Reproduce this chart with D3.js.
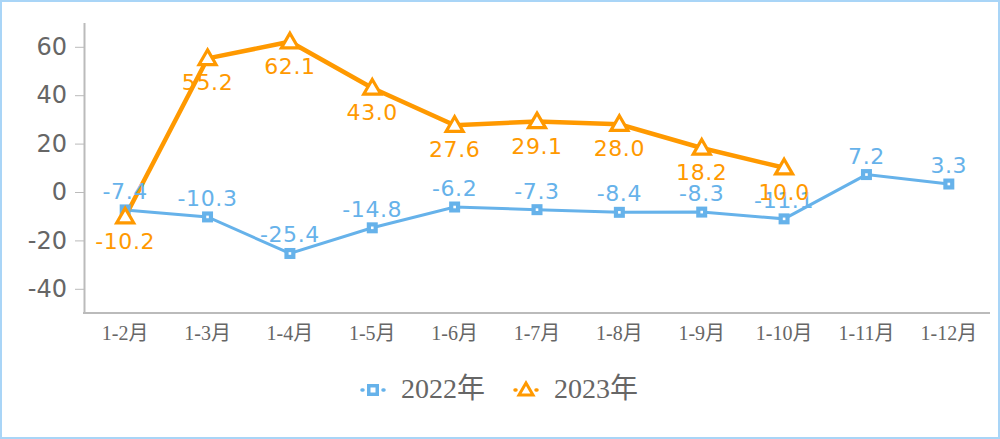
<!DOCTYPE html>
<html><head><meta charset="utf-8">
<script src="https://cdn.jsdelivr.net/npm/d3@7/dist/d3.min.js"></script>
<style>html,body{margin:0;padding:0;background:#fff;}svg{display:block;}</style>
</head><body>
<svg id="c" width="1000" height="439"></svg>
<script>
const categories = ["1-2月","1-3月","1-4月","1-5月","1-6月","1-7月","1-8月","1-9月","1-10月","1-11月","1-12月"];
const series2022 = [-7.4,-10.3,-25.4,-14.8,-6.2,-7.3,-8.4,-8.3,-11.1,7.2,3.3];
const series2023 = [-10.2,55.2,62.1,43.0,27.6,29.1,28.0,18.2,10.0];
const yTicks = [-40,-20,0,20,40,60];
const seriesNames = ["2022年","2023年"];

const blue = "#66b2ea", orange = "#ff9900", gray = "#666";
const serif = "'Liberation Serif', 'DejaVu Serif', 'Noto Sans CJK SC', serif";
const sans = "'DejaVu Sans', Verdana, sans-serif";
const svg = d3.select("#c");
svg.append("rect").attr("x",1).attr("y",1).attr("width",998).attr("height",437)
  .attr("fill","#fff").attr("stroke","#a9d5f7").attr("stroke-width",2);

const x = d3.scaleBand().domain(categories).range([84,990]);
const y = d3.scaleLinear().domain([-50,70]).range([313,22.6]);
const cx = d => x(d) + x.bandwidth()/2;

// axes
const yAxis = svg.append("g").attr("transform","translate(84,0)")
  .call(d3.axisLeft(y).tickValues(yTicks).tickFormat(d=>String(d)).tickSize(9).tickSizeOuter(0).tickPadding(8));
yAxis.select(".domain").attr("stroke","#bbb").attr("stroke-width",2);
yAxis.selectAll(".tick line").attr("stroke","#bbb");
yAxis.selectAll("text").attr("fill",gray).style("font-family",sans).style("font-size","24px");

const xAxis = svg.append("g").attr("transform","translate(0,313)")
  .call(d3.axisBottom(x).tickSize(0).tickPadding(13));
xAxis.select(".domain").attr("stroke","#bbb").attr("stroke-width",2).attr("d","M83,0H990");
xAxis.selectAll("text").attr("fill",gray).style("font-family",serif).style("font-size","20px");

// lines
const line = d3.line().x((d,i)=>cx(categories[i])).y(d=>y(d));
svg.append("path").datum(series2022).attr("d",line).attr("fill","none").attr("stroke",blue).attr("stroke-width",3);
svg.append("path").datum(series2023).attr("d",line).attr("fill","none").attr("stroke",orange).attr("stroke-width",4.5);

function square(g, px, py){
  g.append("rect").attr("x",px-5.5).attr("y",py-5.5).attr("width",11).attr("height",11).attr("fill",blue);
  g.append("rect").attr("x",px-1.3).attr("y",py-1.3).attr("width",2.6).attr("height",2.6).attr("fill","#fff");
}
function tri(g, px, py){
  const s=8.5;
  g.append("path").attr("d",`M${px},${py-s}L${px+s},${py+s*0.72}L${px-s},${py+s*0.72}Z`)
    .attr("fill","#fff").attr("stroke",orange).attr("stroke-width",3.2).attr("stroke-linejoin","miter");
}
const mk = svg.append("g");
series2022.forEach((v,i)=>square(mk,cx(categories[i]),y(v)));
series2023.forEach((v,i)=>tri(mk,cx(categories[i]),y(v)));

// labels
const lab = svg.append("g").style("font-family",sans).style("font-size","22px").style("letter-spacing","0.6px").attr("text-anchor","middle");
series2022.forEach((v,i)=>lab.append("text").attr("x",cx(categories[i])).attr("y",y(v)-11).attr("fill",blue).text(v.toFixed(1)));
series2023.forEach((v,i)=>lab.append("text").attr("x",cx(categories[i])).attr("y",y(v)+32).attr("fill",orange).text(v.toFixed(1)));

// legend
const lg = svg.append("g");
function legendItem(px, color, name, kind){
  lg.append("line").attr("x1",px-11).attr("x2",px+11).attr("y1",390).attr("y2",390)
    .attr("stroke",color).attr("stroke-width",3.5).attr("stroke-linecap","round").attr("stroke-dasharray","1,20");
  if(kind==="sq"){
    lg.append("rect").attr("x",px-6).attr("y",384).attr("width",12).attr("height",12).attr("fill",color);
    lg.append("rect").attr("x",px-2.5).attr("y",387.5).attr("width",5).attr("height",5).attr("fill","#fff");
  } else {
    lg.append("path").attr("d",`M${px},${383}L${px+7},${395}L${px-7},${395}Z`).attr("fill","#fff").attr("stroke",color).attr("stroke-width",3);
  }
  lg.append("text").attr("x",px+28).attr("y",398).attr("fill",gray)
    .style("font-family",serif).style("font-size","28px").text(name);
}
legendItem(373, blue, seriesNames[0], "sq");
legendItem(526, orange, seriesNames[1], "tri");
</script>
</body></html>
